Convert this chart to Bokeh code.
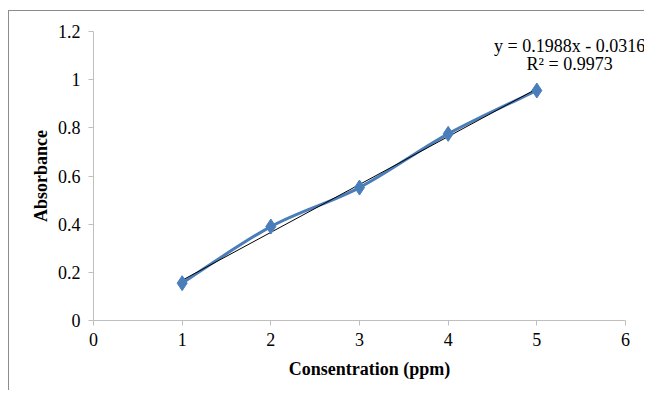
from bokeh.plotting import figure
from bokeh.models import Label, Range1d, FixedTicker
from bokeh.embed import file_html
from bokeh.resources import INLINE

# Data
conc = [1, 2, 3, 4, 5]
absorb = [0.155, 0.39, 0.552, 0.775, 0.955]
slope = 0.1988
intercept = -0.0316
eq_text = "y = 0.1988x - 0.0316"
r2_text = "R² = 0.9973"
x_ticks = [0, 1, 2, 3, 4, 5, 6]
y_ticks = [0, 0.2, 0.4, 0.6, 0.8, 1.0, 1.2]

FONT = "Liberation Serif"
FS = "18px"
BLUE = "#4a7ebb"
GRID = "#bfbfbf"

p = figure(width=636, height=380, output_backend="svg", toolbar_location=None,
           x_range=Range1d(0, 6 + 20 / 88.667), y_range=Range1d(0, 1.2),
           min_border_left=84, min_border_right=0, min_border_top=20, min_border_bottom=71)
p.styles = {"margin-left": "8px", "margin-top": "10px",
            "border-left": "1px solid #8c8c8c", "border-top": "1px solid #8c8c8c"}
p.outline_line_color = None
p.xgrid.visible = False
p.ygrid.visible = False

# smooth curve via Catmull-Rom -> cubic Bezier
pts = list(zip(conc, absorb))
n = len(pts)
x0s, y0s, x1s, y1s, cx0, cy0, cx1, cy1 = [], [], [], [], [], [], [], []
for i in range(n - 1):
    pm = pts[max(i - 1, 0)]
    p0 = pts[i]
    p1 = pts[i + 1]
    p2 = pts[min(i + 2, n - 1)]
    x0s.append(p0[0]); y0s.append(p0[1])
    x1s.append(p1[0]); y1s.append(p1[1])
    cx0.append(p0[0] + (p1[0] - pm[0]) / 6); cy0.append(p0[1] + (p1[1] - pm[1]) / 6)
    cx1.append(p1[0] - (p2[0] - p0[0]) / 6); cy1.append(p1[1] - (p2[1] - p0[1]) / 6)
p.bezier(x0=x0s, y0=y0s, x1=x1s, y1=y1s, cx0=cx0, cy0=cy0, cx1=cx1, cy1=cy1,
         line_color=BLUE, line_width=3)

# trend line
tx = [conc[0], conc[-1]]
ty = [slope * v + intercept for v in tx]
p.line(tx, ty, line_color="black", line_width=1)

p.scatter(conc, absorb, marker="diamond", size=15, fill_color=BLUE, line_color=BLUE)

p.xaxis.bounds = (0, 6)
p.xaxis.ticker = FixedTicker(ticks=x_ticks)
p.yaxis.ticker = FixedTicker(ticks=y_ticks)
p.yaxis.major_label_overrides = {0: "0", 0.2: "0.2", 0.4: "0.4", 0.6: "0.6", 0.8: "0.8", 1.0: "1", 1.2: "1.2"}
p.xaxis.axis_label = "Consentration (ppm)"
p.yaxis.axis_label = "Absorbance"

for ax in (p.xaxis[0], p.yaxis[0]):
    ax.axis_line_color = GRID
    ax.major_tick_line_color = GRID
    ax.minor_tick_line_color = None
    ax.major_tick_out = 5
    ax.major_tick_in = 0
    ax.major_label_text_font = FONT
    ax.major_label_text_font_size = FS
    ax.major_label_text_color = "black"
    ax.axis_label_text_font = FONT
    ax.axis_label_text_font_style = "bold"
    ax.axis_label_text_font_size = FS
    ax.axis_label_text_color = "black"

p.xaxis.major_label_standoff = 7
p.yaxis.major_label_standoff = 8
p.xaxis.axis_label_standoff = 10
p.yaxis.axis_label_standoff = 4

p.add_layout(Label(x=5.37, y=1.14, text=eq_text, text_align="center", text_baseline="middle",
                   text_font=FONT, text_font_size=FS, text_color="black"))
p.add_layout(Label(x=5.37, y=1.066, text=r2_text, text_align="center", text_baseline="middle",
                   text_font=FONT, text_font_size=FS, text_color="black"))

open("out.html", "w").write(file_html(p, INLINE))
